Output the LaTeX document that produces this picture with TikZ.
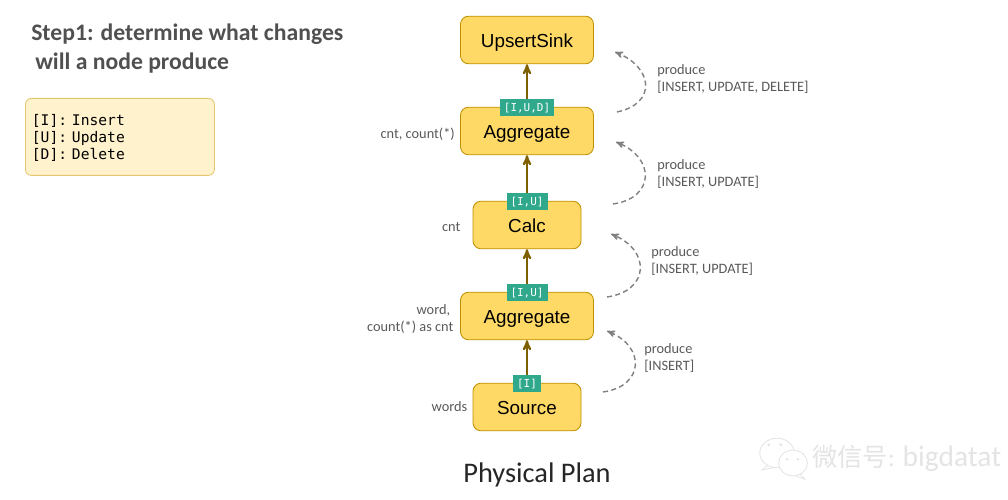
\documentclass[tikz,border=0pt]{standalone}
\usepackage{fontspec}
\usepackage{xcolor}
\setmainfont{Carlito}
\newfontfamily\boxfont{Liberation Sans}
\newfontfamily\tagfont{DejaVu Sans Mono}
\newfontfamily\cjkfont{Noto Sans CJK SC}
\usetikzlibrary{arrows,positioning}

\definecolor{opfill}{HTML}{FFD966}
\definecolor{opline}{HTML}{BF9000}
\definecolor{flowline}{HTML}{7F6000}
\definecolor{tagfill}{HTML}{2FA88C}
\definecolor{notefill}{HTML}{FFF2CC}
\definecolor{noteline}{HTML}{E3C770}
\definecolor{sidetext}{HTML}{595959}
\definecolor{markgray}{HTML}{E4E4E4}

\tikzset{
  opbox/.style={draw=opline, fill=opfill, rounded corners=0.2cm, line width=0.6pt,
    minimum width=3.325cm, minimum height=1.19cm, inner sep=0pt, text height=10pt, text depth=0pt,
    font=\boxfont\fontsize{13.4}{16}\selectfont, text=black},
  opnarrow/.style={opbox, minimum width=2.7cm},
  optag/.style={fill=tagfill, text=white, minimum height=0.425cm, inner xsep=0.1cm, inner ysep=0pt,
    yshift=-0.025cm, font=\tagfont\fontsize{7.8}{9}\selectfont},
  sidenote/.style={text=sidetext, inner sep=0pt, align=left,
    font=\fontsize{10.2}{12}\selectfont},
  flow/.style={->, >=stealth', draw=flowline, line width=1.4pt},
  change/.style={->, >=stealth', draw=gray, line width=1pt, dash pattern=on 3.6pt off 2.4pt},
}

\begin{document}
\begin{tikzpicture}[node distance=2.275cm]
  \useasboundingbox (0,0) rectangle (25.2,12.5);

  % operators, bottom to top
  \node[opnarrow] (Op1) at (13.175,2.325) {Source};
  \node[opbox]    (Op2) [above of=Op1] {Aggregate};
  \node[opnarrow] (Op3) [above of=Op2] {Calc};
  \node[opbox]    (Op4) [above of=Op3, node distance=2.35cm] {Aggregate};
  \node[opbox]    (Op5) [above of=Op4] {UpsertSink};

  % change tags
  \node[optag] (T1) at (Op1.north) {[I]};
  \node[optag] (T2) at (Op2.north) {[I,U]};
  \node[optag] (T3) at (Op3.north) {[I,U]};
  \node[optag] (T4) at (Op4.north) {[I,U,D]};

  \path (T1) edge [flow] (Op2)
        (T2) edge [flow] (Op3)
        (T3) edge [flow] (Op4)
        (T4) edge [flow] (Op5);

  % field names
  \node[sidenote] (L1) [left=0.125cm of Op1] {words};
  \node[sidenote, align=right, yshift=-0.075cm] (L2) [left=0.16cm of Op2] {word,\hspace*{0.08cm}\\count(*) as cnt};
  \node[sidenote, yshift=-0.05cm] (L3) [left=0.3cm of Op3] {cnt};
  \node[sidenote, yshift=-0.075cm] (L4) [left=0.125cm of Op4] {cnt, count(*)};

  % what each operator produces
  \node[sidenote, anchor=west] (P1) at (16.1,3.55)  {produce\\{}[INSERT]};
  \node[sidenote, anchor=west] (P2) at (16.275,5.975)  {produce\\{}[INSERT, UPDATE]};
  \node[sidenote, anchor=west] (P3) at (16.425,8.15) {produce\\{}[INSERT, UPDATE]};
  \node[sidenote, anchor=west] (P4) at (16.425,10.525) {produce\\{}[INSERT, UPDATE, DELETE]};

  \coordinate (A1) at (15.075,2.7);
  \coordinate (B1) at (15.175,4.225);
  \coordinate (A2) at (15.175,5.075);
  \coordinate (B2) at (15.275,6.65);
  \coordinate (A3) at (15.325,7.4);
  \coordinate (B3) at (15.4,8.95);
  \coordinate (A4) at (15.425,9.7);
  \coordinate (B4) at (15.375,11.2);

  \path (A1) edge [change, out=8, in=-22, looseness=1.75] (B1)
        (A2) edge [change, out=8, in=-22, looseness=1.75] (B2)
        (A3) edge [change, out=8, in=-22, looseness=1.75] (B3)
        (A4) edge [change, out=12, in=-22, looseness=1.75] (B4);

  % heading and legend
  \node[anchor=north west, inner sep=0pt, align=left, text=sidetext!90!black,
        font=\bfseries\fontsize{16.85}{20.6}\selectfont] (Head) at (0.775,11.92)
        {Step1: determine what changes\\\hspace*{0.1cm}will a node produce};
  \node[draw=noteline, fill=notefill, rounded corners=0.15cm, line width=0.6pt,
        anchor=north west, minimum width=4.725cm, minimum height=1.925cm,
        inner xsep=0.15cm, inner ysep=0pt, align=left, text width=4.4cm,
        font=\tagfont\fontsize{10.4}{12}\selectfont] (Legend) at (0.625,10.05)
        {\rule{0pt}{9pt}[I]: Insert\\{}[U]: Update\\{}[D]: Delete};

  \node[font=\fontsize{20.2}{24}\selectfont, inner sep=0pt, text=black!85] (Title) at (13.425,0.63) {Physical Plan};

  % mark in the corner
  \node[anchor=west, inner sep=0pt, text=markgray, font=\fontsize{18}{22}\selectfont] (Mark) at (20.3,1.05)
        {{\cjkfont 微信号}: {\fontsize{21}{22}\selectfont bigdatat}};
  \draw[markgray, line width=0.6pt, fill=white] (19.425,1.175) ellipse (0.43 and 0.37);
  \draw[markgray, line width=0.6pt, fill=white] (19.825,0.925) ellipse (0.36 and 0.32);
  \draw[markgray, line width=0.6pt] (20.0,0.65) -- (20.12,0.52) -- (19.9,0.6);
  \draw[markgray, line width=0.6pt] (19.2,0.87) -- (19.05,0.75) -- (19.35,0.81);
  \fill[markgray] (19.22,1.38) circle (0.04) (19.52,1.38) circle (0.04)
                  (19.68,1.02) circle (0.035) (19.95,1.02) circle (0.035);
\end{tikzpicture}
\end{document}
